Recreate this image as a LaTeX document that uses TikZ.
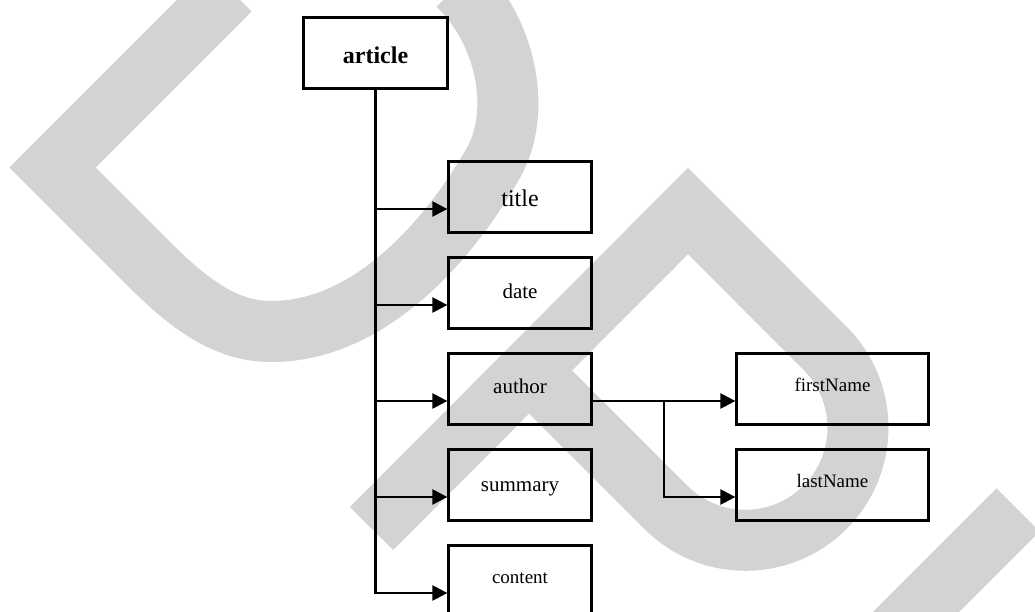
\documentclass[tikz,border=0pt]{standalone}
\usepackage{fontspec}
\setmainfont{Liberation Serif}
\usetikzlibrary{arrows.meta,calc}
\definecolor{wm}{RGB}{211,211,211}
\begin{document}
\begin{tikzpicture}[x=1pt,y=-1pt,
  wmline/.style={draw=wm, line width=61pt, line join=miter, line cap=butt},
  box/.style={draw, line width=2.2pt, inner sep=0pt, minimum height=71pt},
  cbox/.style={box, minimum width=143pt},
  nbox/.style={box, minimum width=192pt},
  bl/.style={text height=#1, text depth=0pt},
  f24/.style={font=\fontsize{24}{28}\selectfont},
  f24b/.style={font=\fontsize{24}{28}\selectfont\bfseries},
  f21/.style={font=\fontsize{21}{25}\selectfont},
  f19/.style={font=\fontsize{19}{23}\selectfont},
  link/.style={line width=2.2pt},
  arr/.style={link, -{Triangle[length=15pt,width=15pt]}}]
\useasboundingbox (0,0) rectangle (1035,612);
\fill[white] (0,0) rectangle (1035,612);
\begin{scope}
\clip (0,0) rectangle (1035,612);
% light grey background strokes
\draw[wmline] (230,-10) -- (52.5,167.5) -- (150,265)
  .. controls (195,310) and (230,331.5) .. (271.5,331.5)
  .. controls (370,331.5) and (450,240) .. (495,160)
  .. controls (522,108) and (505,30) .. (458,-15);
\draw[wmline] (371.5,528.5) -- (688,211) -- (825,348.25)
  arc[start angle=-45, end angle=135, radius=112.5] -- (529.25,370.75);
\draw[wmline] (1018,510) -- (800,728);

% element tree
\node[box, minimum width=144pt, f24b, bl=22pt] (article) at (375.5,53) {article};
\node[cbox, f24, bl=20pt]   (title)   at (520,197) {title};
\node[cbox, f21, bl=10.6pt] (date)    at (520,293) {date};
\node[cbox, f21, bl=8.6pt]  (author)  at (520,389) {author};
\node[cbox, f21, bl=12pt]   (summary) at (520,485) {summary};
\node[cbox, f19, bl=4.6pt]  (content) at (520,581) {content};
\node[nbox, f19, bl=5.4pt]  (first)   at (832.5,389) {firstName};
\node[nbox, f19, bl=4.6pt]  (last)    at (832.5,485) {lastName};

\foreach \n in {title,date,author,summary,content}
  \coordinate (\n-in) at ([yshift=-12pt]\n.west);
\coordinate (author-out) at ([yshift=-12pt]author.east);
\coordinate (first-in) at ([yshift=-12pt]first.west);
\coordinate (last-in) at ([yshift=-12pt]last.west);

\draw[arr] (article.south) |- (content-in);
\foreach \n in {title,date,author,summary}
  \draw[arr] (article.south |- \n-in) -- (\n-in);

\draw[arr] (author-out) -- (first-in);
\coordinate (split) at ($(author-out)!0.5!(first-in)$);
\draw[arr] (split) |- (last-in);
\end{scope}
\end{tikzpicture}
\end{document}
